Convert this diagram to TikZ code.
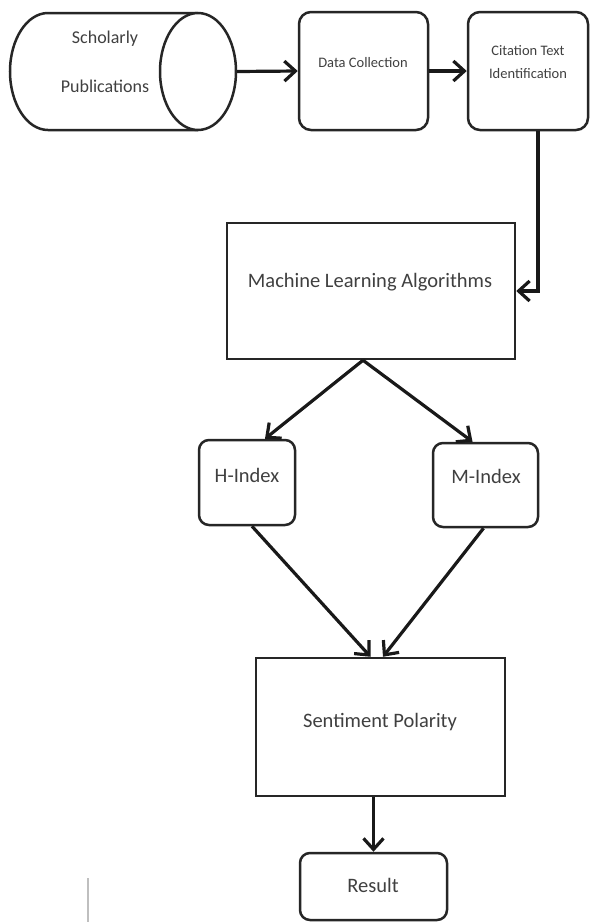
\documentclass[tikz,border=0pt]{standalone}
\usepackage{fontspec}
\setmainfont{Carlito}
\usetikzlibrary{arrows.meta,calc}
\tikzset{
  shapeline/.style={draw=black!85, line width=2.5pt, fill=white},
  box/.style={shapeline, rectangle, inner sep=0pt},
  rbox/.style={box, rounded corners=12pt},
  arr/.style={draw=black!90, line width=3.2pt, -{Straight Barb[length=11pt,width=20pt]}},
  lblbig/.style={anchor=base, inner sep=0pt, text=black!75, font=\fontsize{20.5}{24}\selectfont},
  lblmid/.style={anchor=base, inner sep=0pt, text=black!75, font=\fontsize{18}{22}\selectfont},
  lblsmall/.style={anchor=base, inner sep=0pt, text=black!75, font=\fontsize{14.5}{18}\selectfont},
}
\begin{document}
\begin{tikzpicture}[x=1pt,y=-1pt]
\useasboundingbox[fill=white] (0,0) rectangle (590,922);

% cylinder: Scholarly Publications
\node (pub) [rectangle, inner sep=0pt, minimum width=227pt, minimum height=117pt] at (123.5,71.5) {};
\path[shapeline] (198,13) -- (48,13) arc[start angle=-90, end angle=-270, x radius=38, y radius=58.5] -- (198,130);
\draw[shapeline] (198,71.5) ellipse [x radius=38, y radius=58.5];
\node[lblmid] (pub1) at (105,43) {Scholarly};
\node[lblmid] (pub2) at (105,92) {Publications};

% top row boxes
\node[rbox, minimum width=129pt, minimum height=118pt] (dc) at (363.5,71) {};
\node[lblsmall] (dct) at (363,67) {Data Collection};
\node[rbox, minimum width=120pt, minimum height=118pt] (cti) at (528,71) {};
\node[lblsmall] (cti1) at (528,55) {Citation Text};
\node[lblsmall] (cti2) at (528,78) {Identification};

% machine learning
\node[box, minimum width=288pt, minimum height=136pt] (ml) at (371,291) {};
\node[lblbig] (mlt) at (370,287) {Machine Learning Algorithms};

% indices
\node[rbox, rounded corners=10pt, minimum width=96pt, minimum height=85pt] (h) at (247,482.5) {};
\node[lblbig] (ht) at (247,482) {H-Index};
\node[rbox, rounded corners=10pt, minimum width=105pt, minimum height=84pt] (m) at (485.5,485) {};
\node[lblbig] (mt) at (486,483) {M-Index};

% sentiment polarity
\node[box, minimum width=249pt, minimum height=138pt] (sp) at (380.5,727) {};
\node[lblbig] (spt) at (380,727) {Sentiment Polarity};

% result
\node[rbox, rounded corners=10pt, minimum width=147pt, minimum height=67pt] (res) at (373.5,886.5) {};
\node[lblbig] (rest) at (373,892) {Result};

% connectors
\draw[arr] (pub.east) -- (dc.west);
\draw[arr] (dc.east) -- (cti.west);
\draw[arr] ([xshift=10pt]cti.south) |- (ml.east);
\draw[arr] ([xshift=-8pt]ml.south) -- ([xshift=18pt]h.north);
\draw[arr] ([xshift=-8pt]ml.south) -- ([xshift=-13pt]m.north);
\draw[arr] ([xshift=5pt]h.south) -- ([xshift=-10pt]sp.north);
\draw[arr] ([xshift=-2pt]m.south) -- ([xshift=2.5pt]sp.north);
\draw[arr] (res.north |- sp.south) -- (res.north);

% faint mark at bottom left
\draw[black!25, line width=1.5pt] (88,878) -- (88,922);
\end{tikzpicture}
\end{document}
